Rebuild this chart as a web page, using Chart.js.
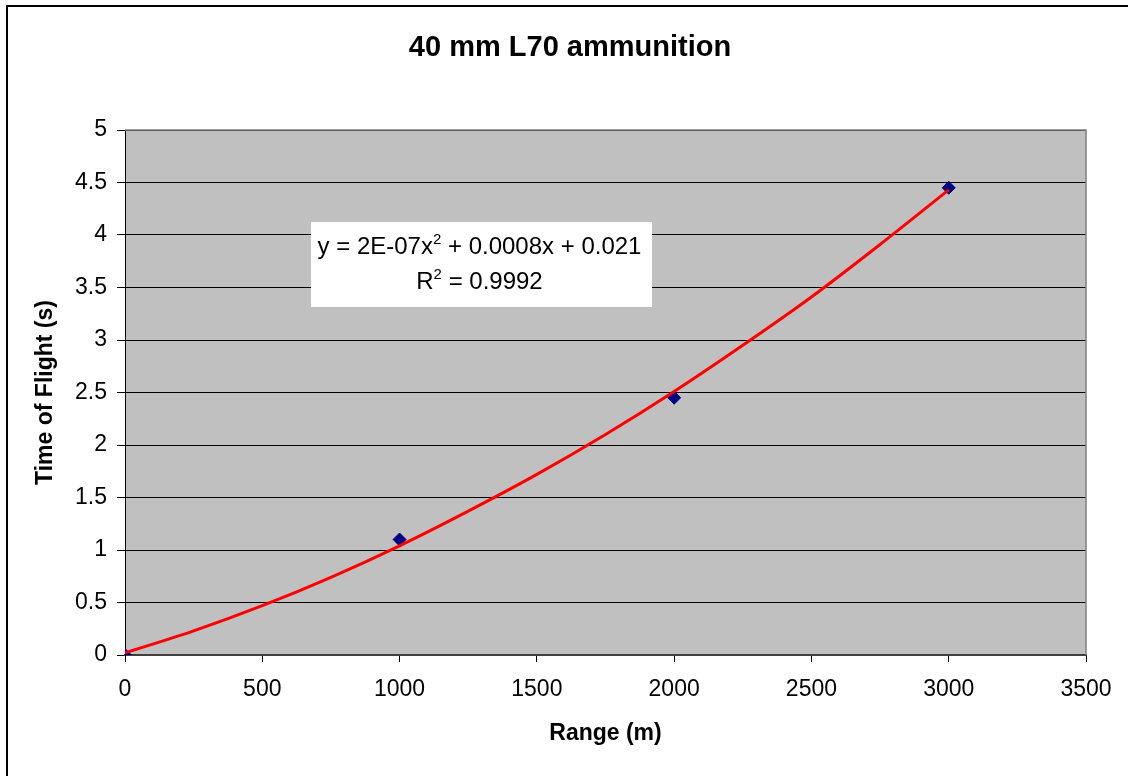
<!DOCTYPE html>
<html>
<head>
<meta charset="utf-8">
<script src="https://cdn.jsdelivr.net/npm/chart.js@4.4.1/dist/chart.umd.min.js"></script>
<style>
  html, body { margin: 0; padding: 0; background: #fff; overflow: hidden; }
  #wrap { width: 1128px; height: 776px; }
</style>
</head>
<body>
<div id="wrap"><canvas id="tof-chart" width="1128" height="776"></canvas></div>
<script>
// measured points (range in m, time of flight in s)
const rangeMeasured = [0, 1000, 2000, 3000];
const timeMeasured = [0, 1.1, 2.45, 4.45];

// polynomial trendline
const rangeTrend = [0, 250, 500, 750, 1000, 1250, 1500, 1750, 2000, 2250, 2500, 2750, 3000];
const timeTrend = [0.02, 0.23, 0.47, 0.74, 1.04, 1.37, 1.72, 2.1, 2.51, 2.95, 3.41, 3.91, 4.43];

const xTicks = [0, 500, 1000, 1500, 2000, 2500, 3000, 3500];
const yTicks = [0, 0.5, 1, 1.5, 2, 2.5, 3, 3.5, 4, 4.5, 5];

const chartTitle = "40 mm L70 ammunition";
const eqnLine1 = ["y = 2E-07x", "2", " + 0.0008x + 0.021"];
const eqnLine2 = ["R", "2", " = 0.9992"];

const FONT = "Arial, 'Liberation Sans', sans-serif";

// grey plot area, frame, title and the trendline label box
const plotDecor = {
  id: "plotDecor",
  beforeDraw(chart) {
    const { ctx, chartArea: a } = chart;
    ctx.save();
    ctx.fillStyle = "#c0c0c0";
    ctx.fillRect(a.left, a.top, a.right - a.left, a.bottom - a.top);
    // outer frame (runs off the right and bottom edge)
    ctx.strokeStyle = "#000";
    ctx.lineWidth = 2;
    ctx.beginPath();
    ctx.moveTo(7, chart.height);
    ctx.lineTo(7, 6);
    ctx.lineTo(chart.width, 6);
    ctx.stroke();

    ctx.fillStyle = "#000";
    ctx.font = "bold 29px " + FONT;
    ctx.textAlign = "center";
    ctx.textBaseline = "middle";
    ctx.fillText(chartTitle, 570, 48);
    ctx.restore();
  },
  afterDatasetsDraw(chart) {
    const { ctx, chartArea: a } = chart;
    ctx.save();
    // top / right edge of plot area
    ctx.strokeStyle = "#808080";
    ctx.lineWidth = 1.5;
    ctx.beginPath();
    ctx.moveTo(a.left, a.top);
    ctx.lineTo(a.right, a.top);
    ctx.lineTo(a.right, a.bottom);
    ctx.stroke();

    // equation box
    const bx = a.left + 186, by = a.top + 92, bw = 341, bh = 85;
    ctx.fillStyle = "#fff";
    ctx.fillRect(bx, by, bw, bh);
    ctx.fillStyle = "#000";
    ctx.textBaseline = "alphabetic";
    const cx = bx + bw / 2 - 2;
    drawSup(ctx, eqnLine1, cx, by + 32);
    drawSup(ctx, eqnLine2, cx, by + 67);
    ctx.restore();
  },
};

function drawSup(ctx, parts, cx, y) {
  const big = "24px " + FONT, small = "15px " + FONT;
  ctx.font = big;
  const w0 = ctx.measureText(parts[0]).width;
  const w2 = ctx.measureText(parts[2]).width;
  ctx.font = small;
  const w1 = ctx.measureText(parts[1]).width;
  let x = cx - (w0 + w1 + w2) / 2;
  ctx.textAlign = "left";
  ctx.font = big;
  ctx.fillText(parts[0], x, y);
  x += w0;
  ctx.font = small;
  ctx.fillText(parts[1], x, y - 10);
  x += w1;
  ctx.font = big;
  ctx.fillText(parts[2], x, y);
}

const ctx = document.getElementById("tof-chart").getContext("2d");

new Chart(ctx, {
  type: "scatter",
  data: {
    datasets: [
      {
        label: "Poly. trendline",
        data: rangeTrend.map((x, i) => ({ x: x, y: timeTrend[i] })),
        showLine: true,
        borderColor: "#ff0000",
        borderWidth: 3,
        pointRadius: 0,
        tension: 0.4,
        cubicInterpolationMode: "monotone",
        fill: false,
      },
      {
        label: "Time of flight",
        data: rangeMeasured.map((x, i) => ({ x: x, y: timeMeasured[i] })),
        pointStyle: "rectRot",
        pointRadius: 6.5,
        backgroundColor: "#000080",
        borderColor: "#000080",
        borderWidth: 1,
      },
    ],
  },
  options: {
    responsive: false,
    animation: false,
    devicePixelRatio: 1,
    layout: { padding: { left: 0, right: 42, top: 130, bottom: 0 } },
    plugins: {
      legend: { display: false },
      tooltip: { enabled: false },
      title: { display: false },
    },
    scales: {
      x: {
        type: "linear",
        min: 0,
        max: 3500,
        afterBuildTicks: (axis) => {
          axis.ticks = xTicks.map((v) => ({ value: v }));
        },
        afterFit: (axis) => {
          axis.height = 121;
        },
        grid: {
          drawOnChartArea: false,
          drawTicks: true,
          tickLength: 7,
          color: "#000",
        },
        border: { color: "#404040", width: 2 },
        ticks: {
          color: "#000",
          padding: 14,
          maxRotation: 0,
          font: { family: FONT, size: 23 },
          callback: (v) => String(v),
        },
        title: {
          display: true,
          text: "Range (m)",
          color: "#000",
          font: { family: FONT, size: 23, weight: "bold" },
          padding: { top: 0, bottom: 29 },
        },
      },
      y: {
        type: "linear",
        min: 0,
        max: 5,
        afterBuildTicks: (axis) => {
          axis.ticks = yTicks.map((v) => ({ value: v }));
        },
        afterFit: (axis) => {
          axis.width = 125;
        },
        grid: {
          drawTicks: true,
          tickLength: 8,
          color: "#000",
          lineWidth: 1,
        },
        border: { color: "#000", width: 1 },
        ticks: {
          color: "#000",
          padding: 10,
          font: { family: FONT, size: 23 },
          callback: (v) => String(v),
        },
        title: {
          display: true,
          text: "Time of Flight (s)",
          color: "#000",
          font: { family: FONT, size: 23, weight: "bold" },
          padding: { top: 32, bottom: 0 },
        },
      },
    },
  },
  plugins: [plotDecor],
});
</script>
</body>
</html>
